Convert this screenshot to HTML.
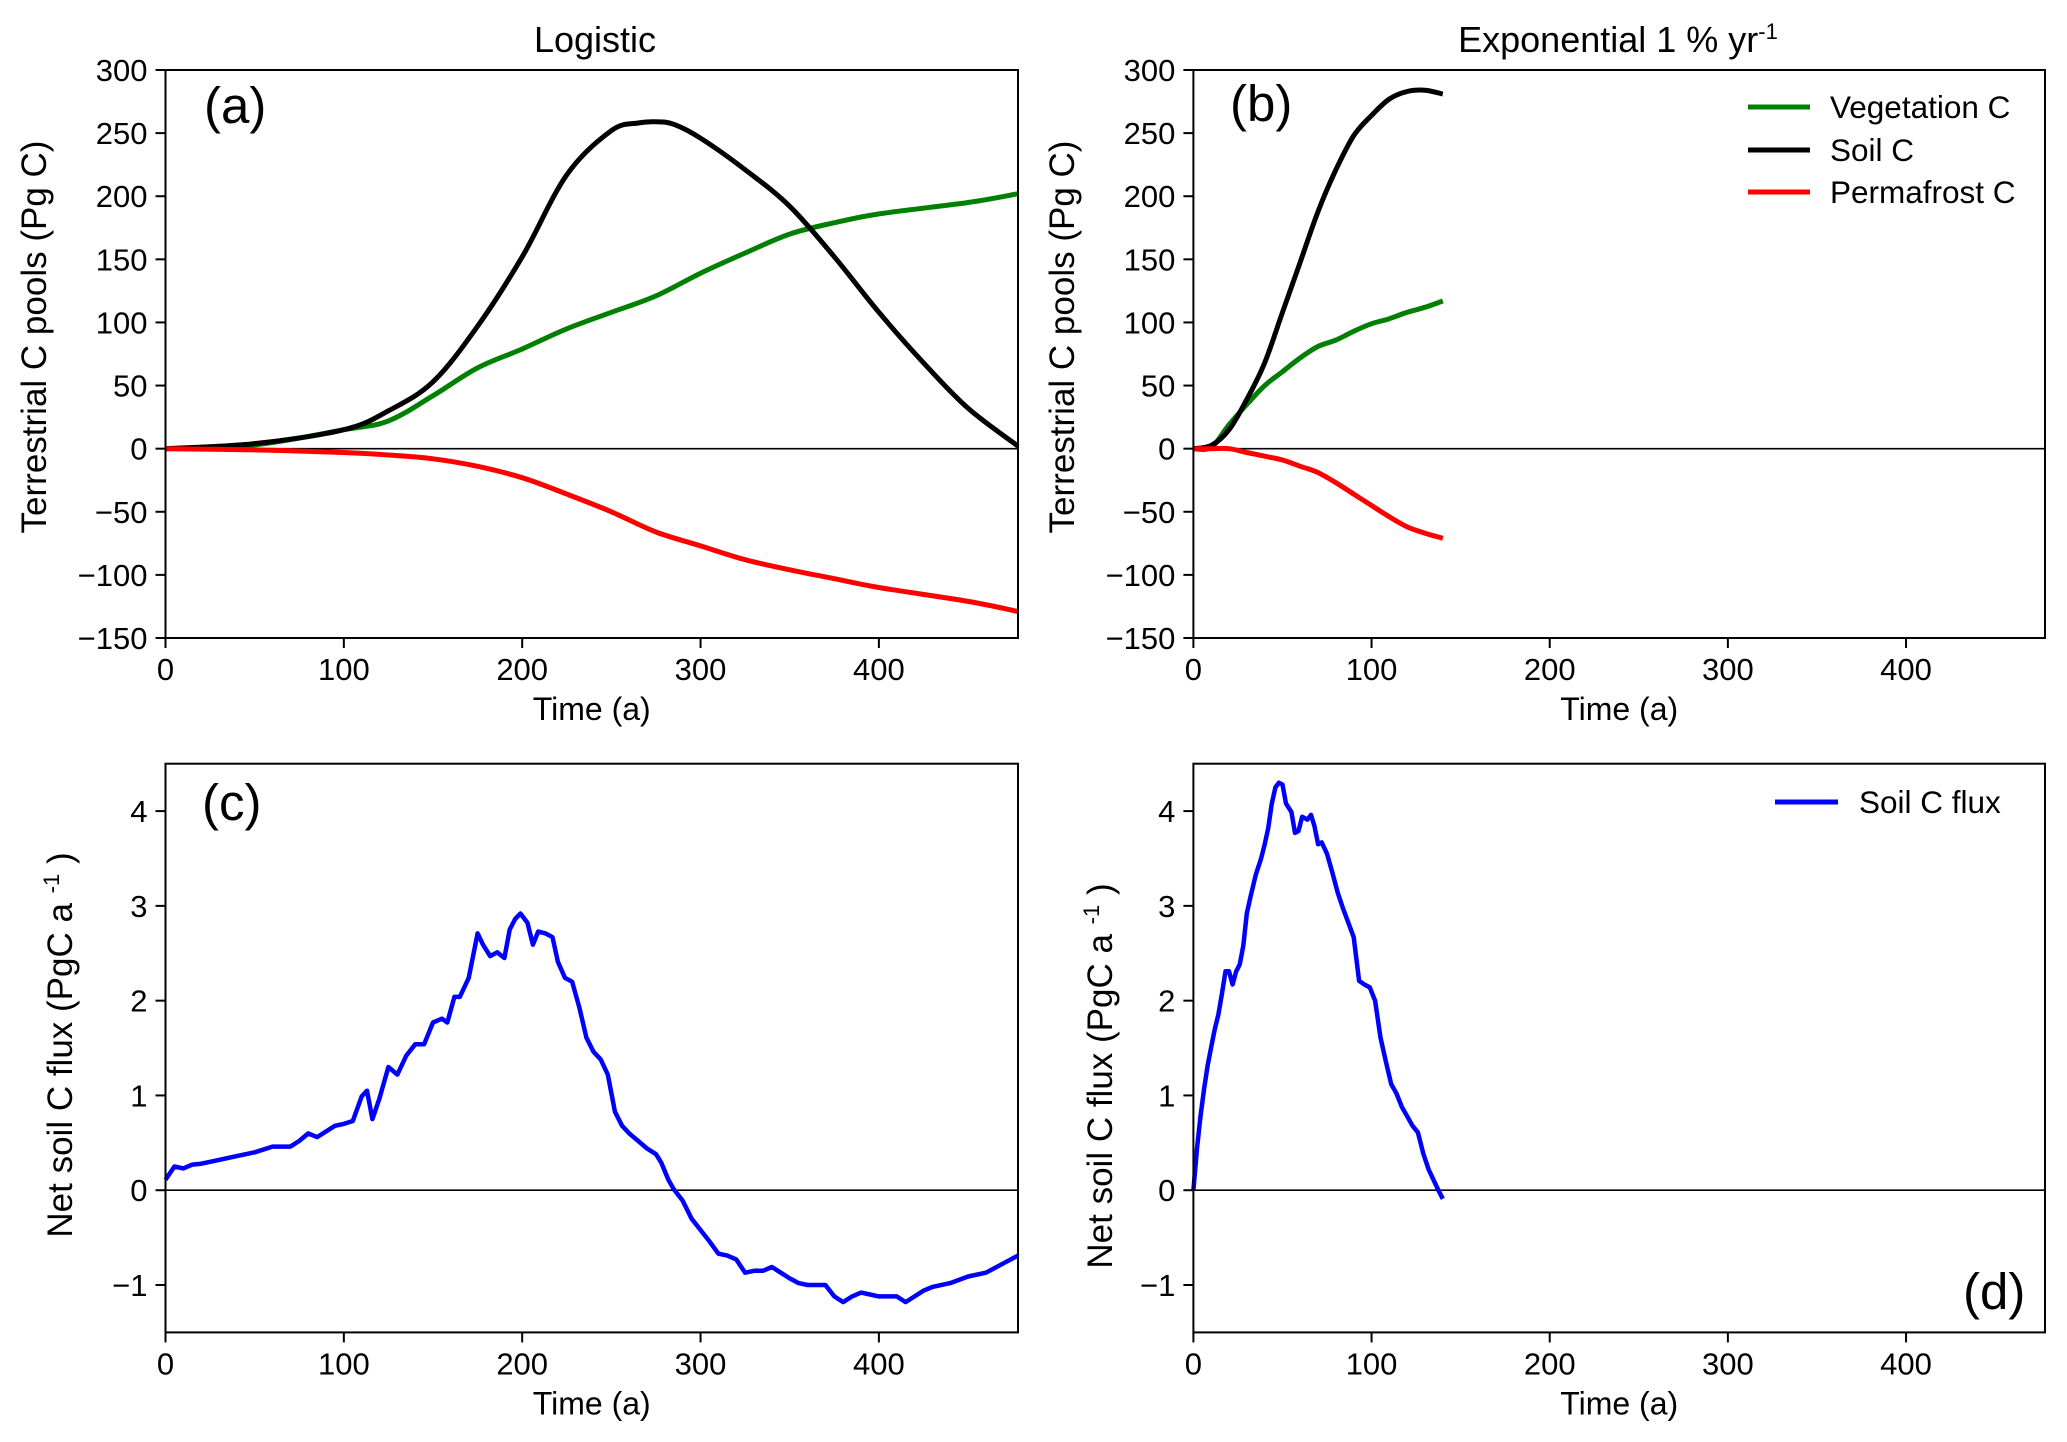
<!DOCTYPE html>
<html><head><meta charset="utf-8"><style>
html,body{margin:0;padding:0;background:#fff;}
svg{display:block;}
.tk{font-family:"Liberation Sans",sans-serif;font-size:31px;fill:#000;}
.lab{font-family:"Liberation Sans",sans-serif;font-size:35px;fill:#000;}
.labn{font-family:"Liberation Sans",sans-serif;font-size:32px;fill:#000;}
.ttl{font-family:"Liberation Sans",sans-serif;font-size:36px;fill:#000;}
.leg{font-family:"Liberation Sans",sans-serif;font-size:31.5px;fill:#000;}
.pl{font-family:"Liberation Sans",sans-serif;font-size:51px;fill:#000;}
</style></head><body>
<svg id="fig" width="2067" height="1442" viewBox="0 0 2067 1442" xmlns="http://www.w3.org/2000/svg"></svg>
<script>
// ---- data ----
const aYears = [0,50,100,125,150,175,200,225,250,265,275,285,300,325,350,375,400,425,450,478];
const aSoil  = [0,4,15,30,53,97,152,217,252,258,259,257,246,221,192,152,108,68,32,2];
const aVegYears = [0,50,100,125,150,175,200,225,250,275,300,325,350,375,400,450,478];
const aVeg   = [0,3,15,22,42,64,79,95,108,121,139,155,170,179,186,195,202];
const aPermYears = [0,50,100,125,150,175,200,225,250,275,300,325,350,375,400,450,478];
const aPerm  = [0,-1,-3,-5,-8,-14,-23,-36,-50,-66,-77,-88,-96,-103,-110,-121,-129];

const bYears = [0,10,20,30,40,50,60,70,80,90,100,110,120,130,140];
const bSoil  = [0,2.5,15,39,68,108,148,188,221,248,264,277,283,284,281];
const bVeg   = [0,1,19,35,50,61,72,81,86,93,99,103,108,112,117];
const bPerm  = [0,0,0,-3,-6,-9,-14,-19,-27,-36,-45,-54,-62,-67,-71];

const cYears = [0,5,10,15,20,30,40,50,60,70,75,80,85,90,95,100,105,110,113,116,120,125,130,135,140,145,150,155,158,162,165,170,175,178,182,186,190,193,196,199,203,206,209,213,217,220,224,228,232,236,240,244,248,252,256,260,265,270,275,278,282,285,290,295,300,305,310,315,320,325,330,335,340,345,350,355,360,365,370,375,380,385,390,395,400,405,410,415,420,425,430,440,450,460,470,478];
const cFlux  = [0.11,0.25,0.23,0.27,0.28,0.32,0.36,0.40,0.46,0.46,0.52,0.60,0.56,0.62,0.68,0.70,0.73,0.99,1.05,0.75,0.97,1.30,1.22,1.42,1.54,1.54,1.77,1.81,1.77,2.04,2.04,2.24,2.71,2.59,2.47,2.51,2.45,2.75,2.86,2.92,2.82,2.59,2.73,2.71,2.67,2.41,2.24,2.20,1.93,1.61,1.46,1.38,1.22,0.83,0.68,0.60,0.52,0.44,0.38,0.29,0.11,0.01,-0.11,-0.30,-0.42,-0.54,-0.67,-0.69,-0.73,-0.87,-0.85,-0.85,-0.81,-0.87,-0.93,-0.98,-1.0,-1.0,-1.0,-1.12,-1.18,-1.12,-1.08,-1.10,-1.12,-1.12,-1.12,-1.18,-1.12,-1.06,-1.02,-0.98,-0.91,-0.87,-0.77,-0.69];

const dYears = [0,2,4,6,8,10,12,14,16,18,20,22,24,26,28,30,32,35,38,40,42,44,46,48,50,52,55,57,59,61,64,66,68,70,72,75,78,81,84,87,90,93,96,99,102,105,108,111,114,117,120,123,126,129,132,135,138,140];
const dFlux  = [0,0.44,0.78,1.07,1.32,1.51,1.70,1.85,2.07,2.31,2.31,2.17,2.31,2.38,2.58,2.92,3.09,3.33,3.50,3.65,3.82,4.08,4.25,4.30,4.28,4.08,3.99,3.77,3.79,3.94,3.91,3.96,3.84,3.65,3.67,3.55,3.35,3.14,2.97,2.82,2.67,2.21,2.17,2.14,2.0,1.61,1.36,1.12,1.02,0.88,0.78,0.68,0.61,0.39,0.22,0.10,-0.02,-0.09];

const xTicks = [0,100,200,300,400];
const poolTicks = [300,250,200,150,100,50,0,-50,-100,-150];
const fluxTicks = [4,3,2,1,0,-1];
const legendPools = ["Vegetation C","Soil C","Permafrost C"];

// ---- drawing ----
const NS = "http://www.w3.org/2000/svg";
const svg = document.getElementById('fig');
function mk(tag, attrs, parent){
  const e = document.createElementNS(NS, tag);
  for (const k in attrs) e.setAttribute(k, attrs[k]);
  (parent||svg).appendChild(e);
  return e;
}
function tickLabel(v){ return v<0 ? '\u2212'+Math.abs(v) : String(v); }
function smoothPath(P){
  let d = 'M'+P[0][0].toFixed(1)+','+P[0][1].toFixed(1);
  for (let i=0;i<P.length-1;i++){
    const p0=P[Math.max(0,i-1)], p1=P[i], p2=P[i+1], p3=P[Math.min(P.length-1,i+2)];
    const c1=[p1[0]+(p2[0]-p0[0])/6, p1[1]+(p2[1]-p0[1])/6];
    const c2=[p2[0]-(p3[0]-p1[0])/6, p2[1]-(p3[1]-p1[1])/6];
    d+=' C'+c1[0].toFixed(1)+','+c1[1].toFixed(1)+' '+c2[0].toFixed(1)+','+c2[1].toFixed(1)+' '+p2[0].toFixed(1)+','+p2[1].toFixed(1);
  }
  return d;
}

function panel(opt){
  const g = mk('g', {});
  
  
  const X = v => opt.x0 + v / opt.xmax * (opt.x1 - opt.x0);
  const Y = v => opt.y1 - (v - opt.ymin) / (opt.ymax - opt.ymin) * (opt.y1 - opt.y0);
  const z = mk('line', {x1:opt.x0, x2:opt.x1, y1:Y(0), y2:Y(0), stroke:'#000', 'stroke-width':1.6}, g);
  
  
  opt.series.forEach(s => {
    const P = s.xs.map((x,i)=>[X(x), Y(s.ys[i])]);
    let p;
    if (s.smooth){
      p = mk('path', {d:smoothPath(P), fill:'none', stroke:s.color, 'stroke-width':s.w||5, 'stroke-linejoin':'round'}, g);
    } else {
      p = mk('polyline', {points:P.map(q=>q[0].toFixed(1)+','+q[1].toFixed(1)).join(' '), fill:'none', stroke:s.color, 'stroke-width':s.w||5, 'stroke-linejoin':'round'}, g);
    }
    
    
  });
  const fr = mk('rect', {x:opt.x0, y:opt.y0, width:opt.x1-opt.x0, height:opt.y1-opt.y0, fill:'none', stroke:'#000', 'stroke-width':2}, g);
  
  
  xTicks.forEach(t => {
    mk('line', {x1:X(t), x2:X(t), y1:opt.y1, y2:opt.y1+10, stroke:'#000','stroke-width':2}, g);
    const tx = mk('text', {x:X(t), y:opt.y1+42, 'text-anchor':'middle', class:'tk'}, g);
    tx.textContent = tickLabel(t);
    
    
  });
  opt.yTicks.forEach(t => {
    mk('line', {x1:opt.x0-10, x2:opt.x0, y1:Y(t), y2:Y(t), stroke:'#000','stroke-width':2}, g);
    const ty = mk('text', {x:opt.x0-18, y:Y(t)+11, 'text-anchor':'end', class:'tk'}, g);
    ty.textContent = tickLabel(t);
    
    
  });
  const xt = mk('text', {x:(opt.x0+opt.x1)/2, y:opt.y1+82, 'text-anchor':'middle', class:'labn'}, g);
  xt.textContent = 'Time (a)';
  
  
  const yt = mk('text', {x:0, y:0, 'text-anchor':'middle', class:'lab', transform:`translate(${opt.ylx},${opt.yly}) rotate(-90)`}, g);
  
  
  if (opt.flux){
    yt.appendChild(document.createTextNode('Net soil C flux (PgC a '));
    const sp = mk('tspan', {dy:-13, 'font-size':22}, yt); sp.textContent='-1';
    const sp2 = mk('tspan', {dy:13}, yt); sp2.textContent=' )';
  } else {
    yt.textContent = 'Terrestrial C pools (Pg C)';
  }
  const pl = mk('text', {x:opt.plx, y:opt.ply, class:'pl'}, g);
  pl.textContent = opt.letter;
  
  
  return {g, X, Y};
}

panel({name:'panel-a-logistic-pools', x0:165.5, x1:1018, y0:70, y1:638, xmax:478, ymin:-150, ymax:300,
  yTicks:poolTicks, ylx:46, yly:337, letter:'(a)', plx:204, ply:123,
  series:[{name:'vegetation-line', xs:aVegYears, ys:aVeg, color:'#008000', smooth:true},
          {name:'soil-line', xs:aYears, ys:aSoil, color:'#000', smooth:true},
          {name:'permafrost-line', xs:aPermYears, ys:aPerm, color:'#ff0000', smooth:true}]});
panel({name:'panel-b-exponential-pools', x0:1193.4, x1:2045, y0:70, y1:638, xmax:478, ymin:-150, ymax:300,
  yTicks:poolTicks, ylx:1074, yly:337, letter:'(b)', plx:1230, ply:121,
  series:[{name:'vegetation-line', xs:bYears, ys:bVeg, color:'#008000', smooth:true},
          {name:'soil-line', xs:bYears, ys:bSoil, color:'#000', smooth:true},
          {name:'permafrost-line', xs:bYears, ys:bPerm, color:'#ff0000', smooth:true}]});
panel({name:'panel-c-logistic-flux', x0:165.5, x1:1018, y0:763.7, y1:1332.4, xmax:478, ymin:-1.5, ymax:4.5,
  yTicks:fluxTicks, ylx:72, yly:1045, letter:'(c)', plx:202, ply:820, flux:true,
  series:[{name:'soil-flux-line', xs:cYears, ys:cFlux, color:'#0000ff', w:4.5}]});
panel({name:'panel-d-exponential-flux', x0:1193.4, x1:2045, y0:763.7, y1:1332.4, xmax:478, ymin:-1.5, ymax:4.5,
  yTicks:fluxTicks, ylx:1112, yly:1076, letter:'(d)', plx:1963, ply:1309, flux:true,
  series:[{name:'soil-flux-line', xs:dYears, ys:dFlux, color:'#0000ff', w:4.5}]});

const t1 = mk('text', {x:595, y:52, 'text-anchor':'middle', class:'ttl'});
t1.textContent = 'Logistic';


const t2 = mk('text', {x:1618, y:52, 'text-anchor':'middle', class:'ttl'});


t2.appendChild(document.createTextNode('Exponential 1 % yr'));
const sup = mk('tspan', {dy:-13, 'font-size':22}, t2); sup.textContent = '-1';

const legColors = ['#008000','#000','#ff0000'];
const legY = [107,150,192];
legendPools.forEach((lab,i) => {
  const lg = mk('g', {});
  
  
  mk('line', {x1:1748, x2:1810, y1:legY[i], y2:legY[i], stroke:legColors[i], 'stroke-width':5}, lg);
  const tx = mk('text', {x:1830, y:legY[i]+11, class:'leg'}, lg);
  tx.textContent = lab;
});
const ld = mk('g', {});


mk('line', {x1:1775, x2:1838, y1:802, y2:802, stroke:'#0000ff', 'stroke-width':5}, ld);
const ldt = mk('text', {x:1859, y:813, class:'leg'}, ld);
ldt.textContent = 'Soil C flux';
</script>
</body></html>
